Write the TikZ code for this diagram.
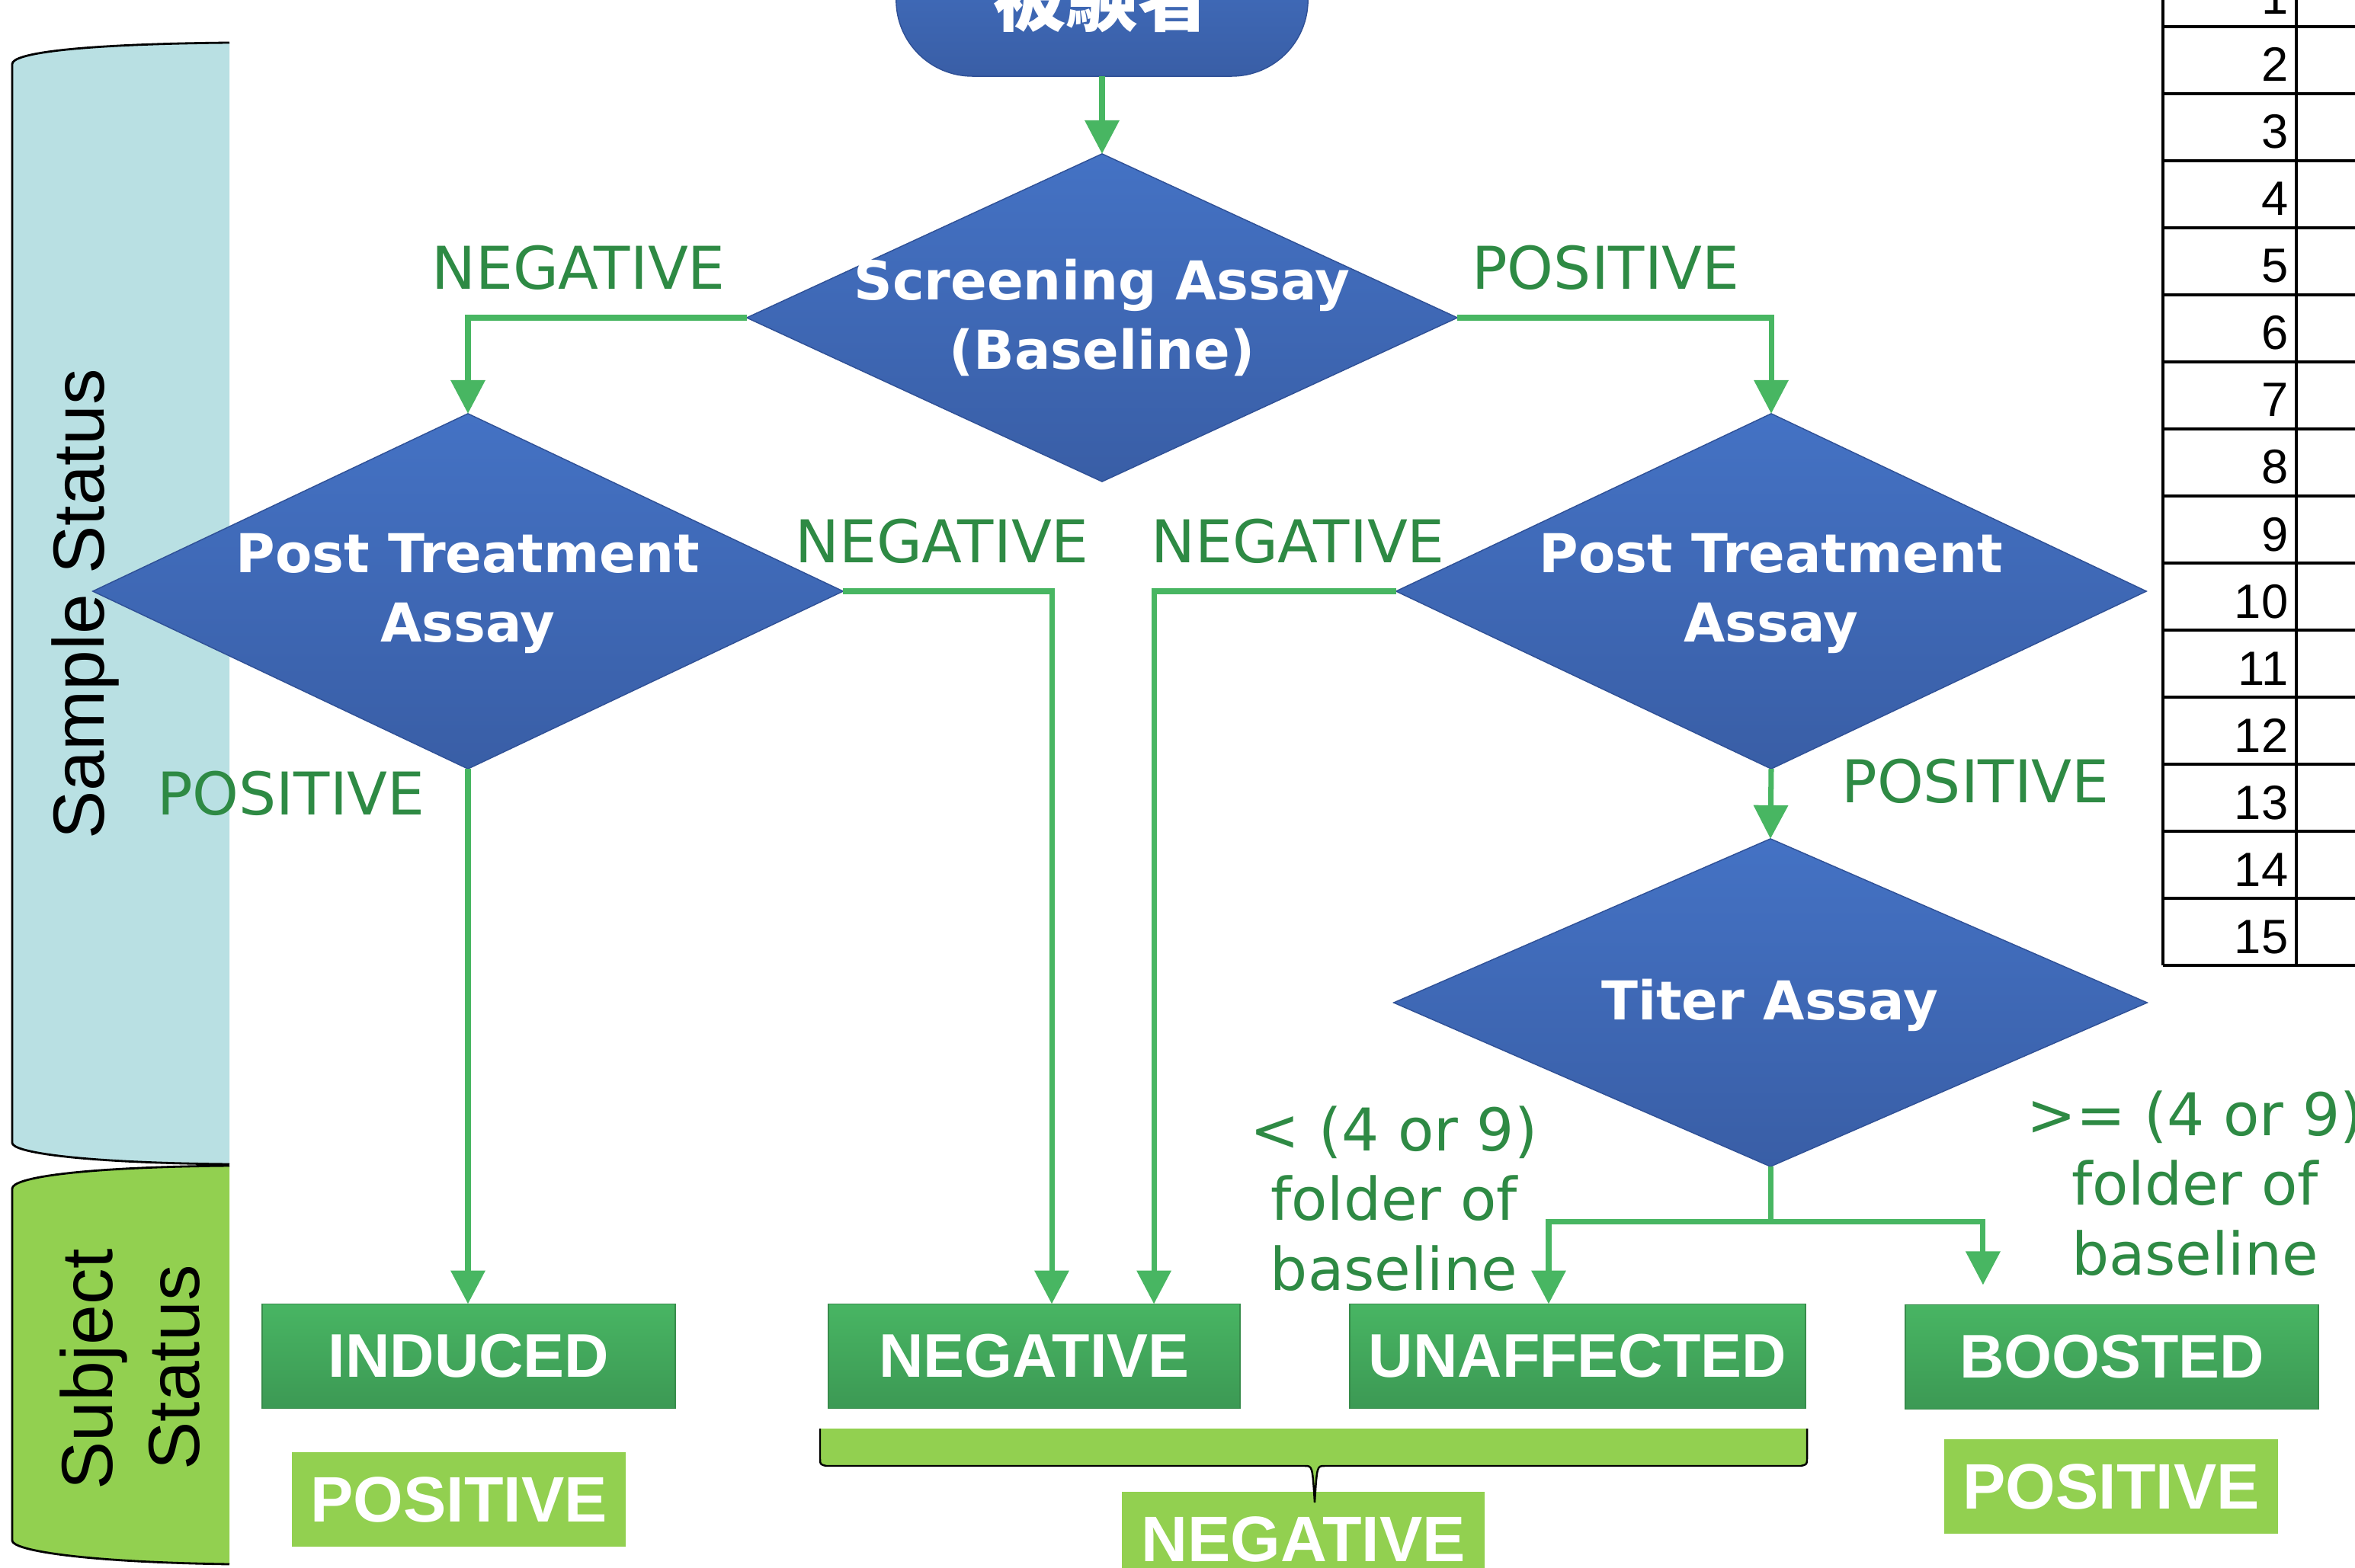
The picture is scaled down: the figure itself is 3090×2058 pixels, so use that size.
\documentclass[tikz,border=0pt]{standalone}
\usepackage{fontspec}
\setmainfont{DejaVu Sans}
\newfontfamily\arialf{Liberation Sans}
\newfontfamily\cjkf{Noto Sans CJK JP}
\usetikzlibrary{shapes.geometric,arrows.meta,calc}
\definecolor{bandblue}{RGB}{185,224,227}
\definecolor{lgreen}{RGB}{146,208,80}
\definecolor{lblgreen}{RGB}{46,138,68}
\definecolor{arrgreen}{RGB}{72,182,98}
\definecolor{boxtop}{RGB}{72,181,99}
\definecolor{boxbot}{RGB}{60,153,84}
\definecolor{boxedge}{RGB}{55,140,75}
\definecolor{diatop}{RGB}{68,114,196}
\definecolor{diabot}{RGB}{57,94,166}
\definecolor{diaedge}{RGB}{47,80,150}
\begin{document}
\begin{tikzpicture}[x=0.01cm,y=-0.01cm,
 dia/.style={diamond, inner sep=0pt, outer sep=0pt, top color=diatop, bottom color=diabot, draw=diaedge, line width=0.4pt},
 diatext/.style={text=white, font=\fontsize{20}{26}\selectfont\bfseries, align=center, inner sep=0pt},
 lbl/.style={text=lblgreen, font=\fontsize{22}{26}\selectfont, align=center, inner sep=0pt},
 status/.style={rectangle, minimum height=1.37cm, inner sep=0pt, outer sep=0pt, top color=boxtop, bottom color=boxbot, draw=boxedge, line width=0.5pt, text=white, font=\arialf\fontsize{23}{27}\selectfont\bfseries},
 verdict/.style={rectangle, minimum width=4.38cm, minimum height=1.23cm, inner sep=0pt, fill=lgreen, text=white, font=\arialf\fontsize{24}{28}\selectfont\bfseries},
 flow/.style={draw=arrgreen, line width=2pt, -{Triangle[length=12.5pt,width=12.5pt]}},
 bandtext/.style={rotate=90, anchor=base, inner sep=0pt, font=\arialf\fontsize{27}{32}\selectfont},
]
\useasboundingbox (0,0) rectangle (3090,2058);
\fill[white] (0,0) rectangle (3090,2058);
\clip (0,0) rectangle (3090,2058);

% left bands
\fill[bandblue] (301,56) .. controls (100,58) and (16,70) .. (16,84) -- (16,1500) .. controls (16,1512) and (100,1526) .. (301,1528) -- cycle;
\draw[line width=0.8pt] (301,56) .. controls (100,58) and (16,70) .. (16,84) -- (16,1500) .. controls (16,1512) and (100,1526) .. (301,1528);
\fill[lgreen] (301,1530) .. controls (100,1532) and (16,1546) .. (16,1560) -- (16,2022) .. controls (16,2034) and (100,2050) .. (301,2053) -- cycle;
\draw[line width=0.8pt] (301,1530) .. controls (100,1532) and (16,1546) .. (16,1560) -- (16,2022) .. controls (16,2034) and (100,2050) .. (301,2053);
\node[bandtext] (sst) at (136,793) {Sample Status};
\node[bandtext] (subjt) at (147,1797) {Subject};
\node[bandtext] (statt) at (261,1795) {Status};

% table
\foreach \k in {1,...,15} {
  \draw[line width=1.1pt] (2838,{35+88*(\k-1)}) -- (3090,{35+88*(\k-1)});
  \node[anchor=base east, inner sep=0pt, font=\arialf\fontsize{18}{20}\selectfont] (num\k) at (3003,{19+88*(\k-1)}) {\k};
}
\draw[line width=1.3pt] (2838,-10) -- (2838,1267);
\draw[line width=1.3pt] (3013,-10) -- (3013,1267);

% start node
\node[rectangle, rounded corners=1cm, minimum width=5.4cm, minimum height=2.04cm, inner sep=0pt, outer sep=0pt, top color=diatop, bottom color=diabot, draw=diaedge, line width=0.4pt, text=white, font=\cjkf\fontsize{27}{30}\selectfont\bfseries] (subj) at (1446,-2) {被験者};

% decisions
\node[dia, minimum width=9.32cm, minimum height=4.3cm] (scr) at (1446,417) {};
\node[diatext] (scrt) at (1446,417) {Screening Assay\\(Baseline)};
\node[dia, minimum width=9.84cm, minimum height=4.66cm] (ptl) at (614,776) {};
\node[diatext] (ptlt) at (614,779) {Post Treatment\\Assay};
\node[dia, minimum width=9.84cm, minimum height=4.66cm] (ptr) at (2324,776) {};
\node[diatext] (ptrt) at (2324,779) {Post Treatment\\Assay};
\node[dia, minimum width=9.88cm, minimum height=4.3cm] (tit) at (2323,1316) {};
\node[diatext] (titt) at (2322,1319) {Titer Assay};

% outcome boxes
\node[status, minimum width=5.41cm] (ind) at (615,1780) {INDUCED};
\node[status, minimum width=5.40cm] (negb) at (1357,1780) {NEGATIVE};
\node[status, minimum width=5.97cm] (unaf) at (2070,1780) {UNAFFECTED};
\node[status, minimum width=5.42cm] (boost) at (2771,1781) {BOOSTED};

\node[verdict] (vpos1) at (602,1968) {POSITIVE};
\node[verdict, minimum width=4.75cm] (vneg) at (1710,2020) {NEGATIVE};
\node[verdict] (vpos2) at (2770,1951) {POSITIVE};

% brace
\fill[lgreen] (1076,1875) -- (1076,1914) .. controls (1076,1922) .. (1084,1924) -- (1712,1924) .. controls (1722,1924) .. (1725,1972) .. controls (1728,1924) .. (1738,1924) -- (2363,1924) .. controls (2371,1922) .. (2371,1914) -- (2371,1875) -- cycle;
\draw[line width=0.7pt] (1076,1875) -- (1076,1914) .. controls (1076,1922) .. (1084,1924) -- (1712,1924) .. controls (1722,1924) .. (1725,1972) .. controls (1728,1924) .. (1738,1924) -- (2363,1924) .. controls (2371,1922) .. (2371,1914) -- (2371,1875);

% connectors
\draw[flow] (subj.south) -- (scr.north);
\draw[flow] (scr.west) -| (ptl.north);
\draw[flow] (scr.east) -| (ptr.north);
\draw[flow] (ptl.east) -| ([xshift=0.23cm]negb.north);
\draw[flow] (ptr.west) -| ([xshift=1.57cm]negb.north);
\draw[flow] (ptl.south) -- (ptl.south |- ind.north);
\draw[flow] (ptr.south) -- (tit.north);
\coordinate (split) at ($(tit.south)+(0,72)$);
\draw[flow] (tit.south) -- (split) -| ([xshift=-0.38cm]unaf.north);
\draw[flow] (split) -| ([xshift=-1.69cm,yshift=0.26cm]boost.north);

% labels
\node[lbl] (l1) at (759,351) {NEGATIVE};
\node[lbl] (l2) at (2107,351) {POSITIVE};
\node[lbl] (l3) at (1236,710) {NEGATIVE};
\node[lbl] (l4) at (1703,710) {NEGATIVE};
\node[lbl] (l5) at (382,1041) {POSITIVE};
\node[lbl] (l6) at (2592,1025) {POSITIVE};
\node[lbl] (l7) at (1829,1573) {< (4 or 9)\\folder of\\baseline};
\node[lbl] (l8) at (2880,1553) {>= (4 or 9)\\folder of\\baseline};
\end{tikzpicture}
\end{document}
